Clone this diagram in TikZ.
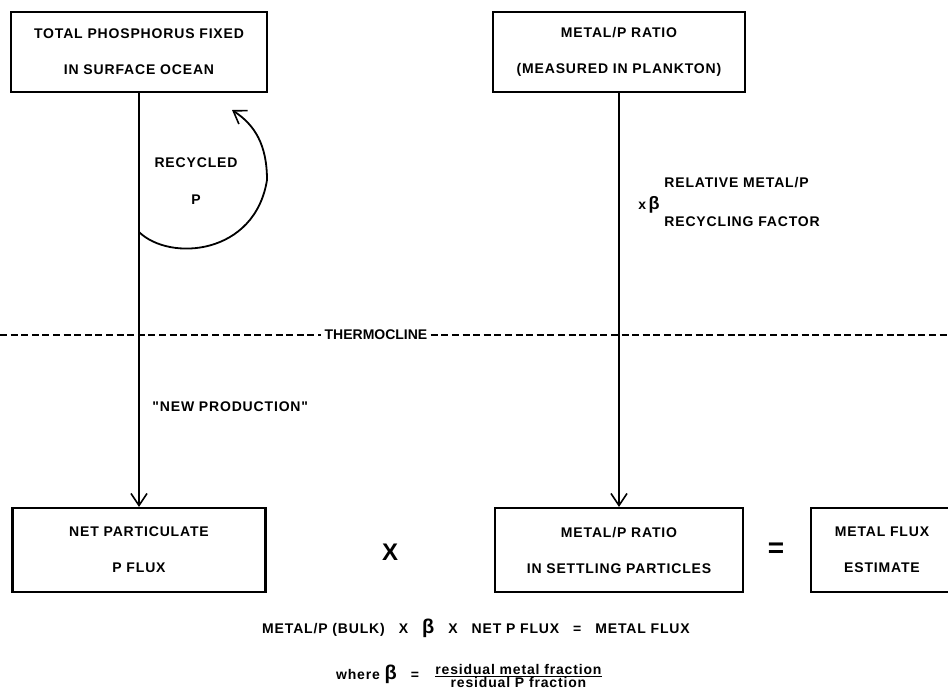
\documentclass[tikz,border=0pt]{standalone}
\usepackage{fontspec}
\setmainfont{Liberation Sans}
\newfontfamily\spaced[LetterSpace=6]{Liberation Sans}
\usetikzlibrary{arrows.meta}
\tikzset{
	box/.style={draw, line width=1.1pt, align=center, inner sep=0pt,
		font=\spaced\bfseries\fontsize{7}{18}\selectfont, minimum height=40pt},
	lbl/.style={inner sep=1pt, font=\spaced\bfseries\fontsize{7}{9}\selectfont},
	flow/.style={line width=0.9pt, -{Straight Barb[length=6pt,width=8pt,line width=0.8pt]}},
	thermo/.style={line width=0.9pt, dash pattern=on 3.5pt off 1.8pt}
}
\newcommand{\bbeta}[1]{{\fontsize{#1}{#1}\selectfont\bfseries β}}
\begin{document}
\begin{tikzpicture}[x=0.5pt, y=-0.5pt]
	\clip (0,0) rectangle (948,691);
	\node[box, minimum width=128pt] (tpfix) at (139,52) {TOTAL PHOSPHORUS FIXED\\IN SURFACE OCEAN};
	\node[box, minimum width=126pt] (ratio) at (619,52) {METAL/P RATIO\\(MEASURED IN PLANKTON)};
	\node[box, minimum width=126.5pt, minimum height=42pt] (pflux) at (139,550) {NET PARTICULATE\\P FLUX};
	\node[box, minimum width=124pt, minimum height=42pt] (settle) at (619,550) {METAL/P RATIO\\IN SETTLING PARTICLES};
	\node[box, minimum width=71pt, minimum height=42pt] (mflux) at (882,550) {METAL FLUX\\ESTIMATE};
	\node[font=\bfseries\fontsize{12}{12}\selectfont] (times) at (390,552) {X};
	\node[font=\bfseries\fontsize{14}{14}\selectfont] (equals) at (776,550) {=};

	\draw[flow] (tpfix) -- (pflux);
	\draw[flow] (ratio) -- (settle);

	\coordinate (rstart) at (139,232);
	\coordinate (rend) at (232,110);
	\draw[flow] (rstart) .. controls (170,262) and (255,255) .. (267,180)
		.. controls (267,145) and (255,125) .. (rend);
	\node[lbl] (recyc) at (196,163) {RECYCLED};
	\node[lbl] (recp) at (196,200) {P};

	\node[lbl, anchor=west] (relmp) at (662,183) {RELATIVE METAL/P};
	\node[lbl, anchor=west] (xbeta) at (636,205) {x\,\bbeta{9}};
	\node[lbl, anchor=west] (recfac) at (662,222) {RECYCLING FACTOR};

	\node[lbl, anchor=west] (newprod) at (150,407) {"NEW PRODUCTION"};

	\coordinate (tleft) at (0,335);
	\coordinate (tright) at (948,335);
	\node[inner sep=1.5pt, font=\bfseries\fontsize{7}{7}\selectfont] (tcline) at (376,335) {THERMOCLINE};
	\draw[thermo] (tleft) -- (tcline);
	\draw[thermo] (tcline) -- (tright);

	\node[lbl] (eqn) at (476,628) {METAL/P (BULK)\quad X\quad \bbeta{10}\quad X\quad NET P FLUX\quad =\quad METAL FLUX};
	\node[lbl] (where) at (470,676) {where \bbeta{10}\quad =\quad $\textstyle\frac{\mbox{\spaced\bfseries residual metal fraction}}{\mbox{\spaced\bfseries residual P fraction}}$};
\end{tikzpicture}
\end{document}
